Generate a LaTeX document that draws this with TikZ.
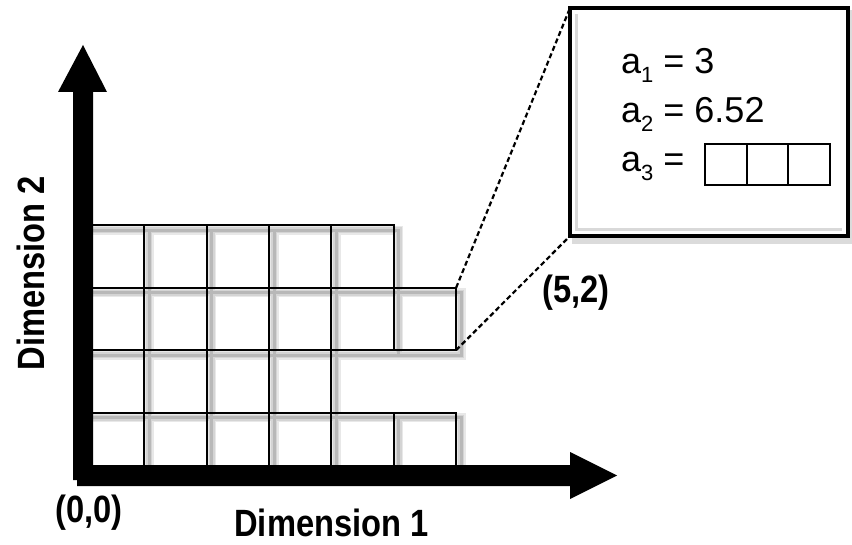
\documentclass[tikz,border=0pt]{standalone}
\usepackage{fontspec}
\setmainfont{Liberation Sans}
\newfontfamily\lblfont[FakeStretch=0.86]{Liberation Sans}
\newcommand{\mysubs}[1]{\raisebox{-9pt}{\fontsize{22}{22}\selectfont #1}}
\tikzset{
  axisfill/.style={fill=black, draw=none},
  cellline/.style={line width=2pt, draw=black},
  shadowA/.style={line width=9pt, draw=black!9},
  shadowB/.style={line width=6pt, draw=black!17},
  shadowC/.style={line width=3pt, draw=black!28},
  dashline/.style={line width=2.2pt, dash pattern=on 5pt off 3pt},
  lbl/.style={font=\lblfont\bfseries\fontsize{38}{40}\selectfont, inner sep=0pt},
  eqtext/.style={font=\fontsize{36}{40}\selectfont, inner sep=0pt, anchor=base west},
  panel/.style={line width=3.4pt, draw=black, fill=white},
  slotbox/.style={line width=2pt, draw=black},
}
\begin{document}
\begin{tikzpicture}[x=1pt, y=-1pt]
\useasboundingbox (0,0) rectangle (852,545);
\fill[white] (0,0) rectangle (852,545);

% ---- grid shadows ----
\foreach \st in {shadowA,shadowB,shadowC}{
  \foreach \r/\n in {0/5,1/3,2/5,3/4}{
    \foreach \c in {0,...,\n}{
      \draw[\st] ({82+62.35*\c+5},{475-62.4*\r+5}) rectangle ({82+62.35*(\c+1)+5},{475-62.4*(\r+1)+5});
    }
  }
}
% ---- grid cells ----
\foreach \r/\n in {0/5,1/3,2/5,3/4}{
  \foreach \c in {0,...,\n}{
    \draw[cellline] ({82+62.35*\c},{475-62.4*\r}) rectangle ({82+62.35*(\c+1)},{475-62.4*(\r+1)});
  }
}

% ---- axes ----
\fill[axisfill] (73,480) -- (73,92) -- (58,92) -- (83,45) -- (107,92) -- (93,92)
  -- (93,465) -- (570,465) -- (570,452) -- (617,475.5) -- (570,499) -- (570,486)
  -- (77,486) -- (77,480) -- cycle;

% ---- zoom panel ----
\coordinate (cTop) at (456.1,287.8);
\coordinate (cBot) at (456.1,350.2);
\draw[line width=6pt, black!14] (575,13) rectangle (853,241);
\draw[panel] (570,8) rectangle (848,236);
\draw[line width=3pt, black!15] (576,14) -- (576,230) -- (842,230);
\coordinate (pTL) at (570,8);
\coordinate (pBL) at (570,236);
\draw[dashline] (cTop) -- (pTL);
\draw[dashline] (cBot) -- (pBL);

\node[eqtext] (a1) at (621,74) {a\mysubs{1} = 3};
\node[eqtext] (a2) at (621,123) {a\mysubs{2} = 6.52};
\node[eqtext] (a3) at (621,172) {a\mysubs{3} =};
\draw[slotbox] (705,144) rectangle (830,185);
\draw[slotbox] (746.7,144) -- (746.7,185);
\draw[slotbox] (788.3,144) -- (788.3,185);

% ---- labels ----
\node[lbl, anchor=base] (origin) at (89,522) {(0,0)};
\node[lbl, anchor=base, text depth=0pt] (dimone) at (331.5,536) {Dimension 1};
\node[lbl, anchor=base] (pt52) at (576,303) {(5,2)};
\node[lbl, anchor=base, rotate=90] (dimtwo) at (45,273) {Dimension 2};
\end{tikzpicture}
\end{document}
